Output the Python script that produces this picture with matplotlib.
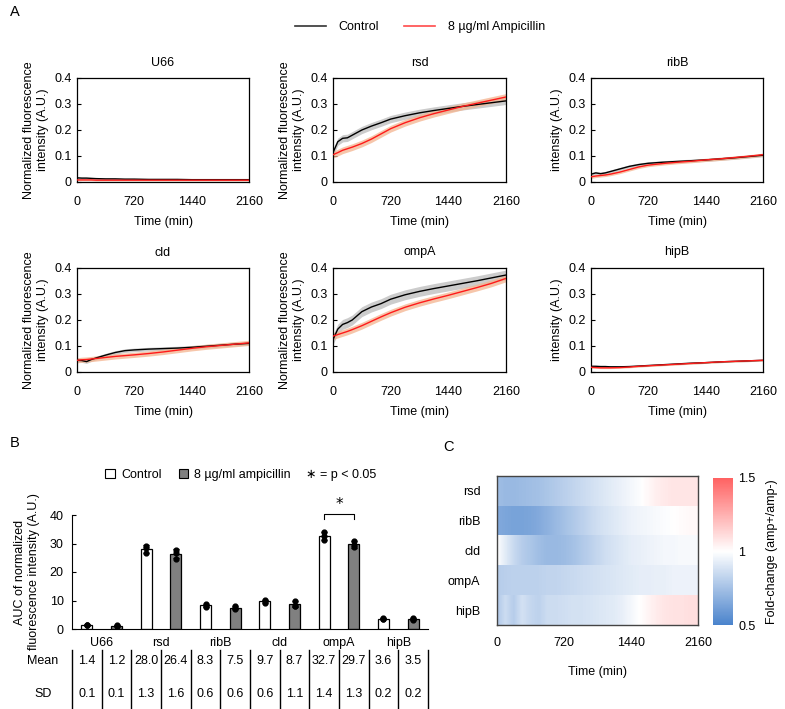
import matplotlib
matplotlib.use("Agg")
import matplotlib.pyplot as plt
import matplotlib.transforms as mtransforms
from matplotlib.colors import LinearSegmentedColormap
from matplotlib.lines import Line2D
from matplotlib.patches import Patch
import numpy as np

plt.rcParams["font.family"] = ["Liberation Sans", "DejaVu Sans"]
FS = 9

W, H = 785, 709

# ---- panel A: time courses ----
time = [0, 60, 120, 180, 240, 360, 480, 600, 720, 900, 1080, 1260, 1440, 1620, 1800, 1980, 2160]

U66_ctrl = [0.016, 0.015, 0.015, 0.014, 0.013, 0.012, 0.012, 0.011, 0.011, 0.010, 0.010, 0.010, 0.009, 0.009, 0.009, 0.009, 0.009]
U66_amp = [0.008, 0.008, 0.008, 0.008, 0.007, 0.007, 0.007, 0.007, 0.007, 0.007, 0.007, 0.007, 0.007, 0.007, 0.007, 0.007, 0.007]
rsd_ctrl = [0.113, 0.155, 0.168, 0.170, 0.180, 0.200, 0.215, 0.228, 0.242, 0.255, 0.266, 0.275, 0.283, 0.291, 0.298, 0.305, 0.312]
rsd_amp = [0.105, 0.113, 0.122, 0.128, 0.134, 0.148, 0.165, 0.185, 0.205, 0.228, 0.247, 0.263, 0.277, 0.291, 0.303, 0.315, 0.327]
ribB_ctrl = [0.030, 0.035, 0.032, 0.035, 0.040, 0.050, 0.060, 0.067, 0.072, 0.076, 0.079, 0.082, 0.085, 0.089, 0.093, 0.098, 0.103]
ribB_amp = [0.020, 0.023, 0.025, 0.027, 0.030, 0.038, 0.048, 0.058, 0.065, 0.071, 0.076, 0.080, 0.085, 0.089, 0.094, 0.099, 0.105]
cld_ctrl = [0.045, 0.044, 0.040, 0.048, 0.054, 0.065, 0.075, 0.082, 0.085, 0.088, 0.090, 0.092, 0.095, 0.099, 0.103, 0.107, 0.110]
cld_amp = [0.045, 0.047, 0.048, 0.050, 0.052, 0.056, 0.060, 0.063, 0.066, 0.071, 0.077, 0.084, 0.091, 0.097, 0.102, 0.107, 0.112]
ompA_ctrl = [0.125, 0.165, 0.183, 0.190, 0.200, 0.232, 0.250, 0.263, 0.280, 0.297, 0.310, 0.321, 0.331, 0.341, 0.351, 0.362, 0.373]
ompA_amp = [0.138, 0.144, 0.150, 0.156, 0.163, 0.178, 0.195, 0.212, 0.228, 0.249, 0.266, 0.281, 0.295, 0.310, 0.325, 0.341, 0.360]
hipB_ctrl = [0.022, 0.022, 0.021, 0.021, 0.020, 0.020, 0.021, 0.023, 0.025, 0.028, 0.031, 0.034, 0.036, 0.039, 0.041, 0.043, 0.045]
hipB_amp = [0.018, 0.017, 0.016, 0.016, 0.016, 0.017, 0.019, 0.022, 0.024, 0.027, 0.030, 0.033, 0.036, 0.039, 0.041, 0.043, 0.045]

# band half-widths (SD) per gene: control, ampicillin
U66_sd = [0.003, 0.003]
rsd_sd = [0.014, 0.013]
ribB_sd = [0.006, 0.006]
cld_sd = [0.007, 0.010]
ompA_sd = [0.019, 0.013]
hipB_sd = [0.003, 0.003]

# ---- panel B: AUC ----
genes_b = ["U66", "rsd", "ribB", "cld", "ompA", "hipB"]
auc_mean = [1.4, 1.2, 28.0, 26.4, 8.3, 7.5, 9.7, 8.7, 32.7, 29.7, 3.6, 3.5]
auc_sd = [0.1, 0.1, 1.3, 1.6, 0.6, 0.6, 0.6, 1.1, 1.4, 1.3, 0.2, 0.2]
auc_reps = [
    [1.3, 1.4, 1.5], [1.1, 1.2, 1.3],
    [29.2, 28.3, 26.5], [27.8, 26.8, 24.6],
    [8.9, 8.2, 7.8], [8.1, 7.4, 7.0],
    [10.3, 9.7, 9.1], [10.0, 8.1, 8.0],
    [34.2, 32.5, 31.4], [31.0, 29.5, 28.6],
    [3.8, 3.6, 3.4], [3.7, 3.5, 3.3],
]

# ---- panel C: fold-change heatmap ----
heat_genes = ["rsd", "ribB", "cld", "ompA", "hipB"]
heat_time = list(range(0, 2161, 90))
fc_rsd = [0.74, 0.72, 0.72, 0.73, 0.74, 0.75, 0.77, 0.79, 0.81, 0.83, 0.85, 0.87, 0.89, 0.91, 0.93, 0.95, 0.97, 0.99, 1.02, 1.05, 1.07, 1.08, 1.08, 1.08, 1.08]
fc_ribB = [0.66, 0.64, 0.63, 0.63, 0.64, 0.66, 0.69, 0.72, 0.75, 0.78, 0.81, 0.84, 0.87, 0.89, 0.91, 0.93, 0.95, 0.96, 0.97, 0.98, 0.99, 1.00, 1.01, 1.02, 1.02]
fc_cld = [1.00, 0.92, 0.85, 0.80, 0.77, 0.74, 0.72, 0.72, 0.73, 0.75, 0.78, 0.81, 0.84, 0.87, 0.89, 0.91, 0.93, 0.94, 0.95, 0.96, 0.97, 0.97, 0.98, 0.98, 0.98]
fc_ompA = [0.80, 0.81, 0.82, 0.82, 0.82, 0.82, 0.83, 0.83, 0.84, 0.85, 0.86, 0.87, 0.88, 0.89, 0.90, 0.91, 0.92, 0.93, 0.93, 0.94, 0.94, 0.95, 0.95, 0.95, 0.95]
fc_hipB = [0.78, 0.86, 0.80, 0.88, 0.84, 0.82, 0.86, 0.86, 0.87, 0.88, 0.88, 0.89, 0.90, 0.91, 0.92, 0.94, 0.97, 1.00, 1.03, 1.06, 1.08, 1.09, 1.09, 1.10, 1.10]


def px(l, t, r, b):
    return [l / W, 1 - b / H, (r - l) / W, (b - t) / H]


fig = plt.figure(figsize=(W / 100, H / 100), dpi=100)

panels = [
    ("U66", U66_ctrl, U66_amp, U66_sd, (77, 78, 249, 182), True),
    ("rsd", rsd_ctrl, rsd_amp, rsd_sd, (333, 78, 506, 182), True),
    ("ribB", ribB_ctrl, ribB_amp, ribB_sd, (591, 78, 763, 182), False),
    ("cld", cld_ctrl, cld_amp, cld_sd, (77, 268, 249, 372), True),
    ("ompA", ompA_ctrl, ompA_amp, ompA_sd, (333, 268, 506, 372), True),
    ("hipB", hipB_ctrl, hipB_amp, hipB_sd, (591, 268, 763, 372), False),
]

for name, ctrl, amp, sd, box, full_label in panels:
    ax = fig.add_axes(px(*box))
    c = np.array(ctrl)
    a = np.array(amp)
    ax.fill_between(time, c - sd[0], c + sd[0], color="#cccccc", lw=0, zorder=1)
    ax.fill_between(time, a - sd[1], a + sd[1], color="#f4b48f", alpha=0.75, lw=0, zorder=2)
    ax.plot(time, ctrl, color="black", lw=1.0, zorder=3)
    ax.plot(time, amp, color="#ff1a1a", lw=1.0, zorder=4)
    ax.set_xlim(0, 2160)
    ax.set_ylim(0, 0.4)
    ax.set_xticks([0, 720, 1440, 2160])
    ax.set_yticks([0, 0.1, 0.2, 0.3, 0.4])
    ax.set_yticklabels(["0", "0.1", "0.2", "0.3", "0.4"])
    ax.tick_params(axis="x", length=0, pad=10, labelsize=FS)
    ax.tick_params(axis="y", direction="in", length=3, pad=4, labelsize=FS)
    ax.set_xlabel("Time (min)", fontsize=FS, labelpad=6)
    if full_label:
        ax.set_ylabel("Normalized fluorescence\nintensity (A.U.)", fontsize=FS, labelpad=4)
    else:
        ax.set_ylabel("intensity (A.U.)", fontsize=FS, labelpad=4)
    ax.set_title(name, fontsize=FS, pad=9)
    for s in ax.spines.values():
        s.set_linewidth(0.9)

fig.legend(
    [Line2D([], [], color="#333333", lw=1.2), Line2D([], [], color="#ff4a4a", lw=1.2)],
    ["Control", "8 \u00b5g/ml Ampicillin"],
    loc="center", bbox_to_anchor=(420 / W, 1 - 27 / H), ncol=2, frameon=False,
    handlelength=2.5, columnspacing=2.0, handletextpad=1.0, fontsize=FS,
)

# ---- panel B ----
axb = fig.add_axes(px(72, 515, 428, 629))
pos = np.arange(len(auc_mean))
colors = ["white" if i % 2 == 0 else "#808080" for i in pos]
axb.bar(pos, auc_mean, width=0.36, color=colors, edgecolor="black", linewidth=0.9, zorder=2)
axb.errorbar(pos, auc_mean, yerr=auc_sd, fmt="none", ecolor="black", elinewidth=0.9, capsize=2.5, capthick=0.9, zorder=3)
for i, reps in enumerate(auc_reps):
    axb.scatter([i] * len(reps), reps, s=12, color="black", zorder=4)
axb.set_xlim(-0.5, 11.5)
axb.set_ylim(0, 40)
axb.set_yticks([0, 10, 20, 30, 40])
axb.tick_params(axis="y", direction="in", length=3, pad=6, labelsize=FS)
axb.set_xticks(np.arange(0.5, 12, 2))
axb.set_xticklabels(genes_b)
axb.tick_params(axis="x", length=0, pad=6, labelsize=FS)
axb.spines["top"].set_visible(False)
axb.spines["right"].set_visible(False)
axb.set_ylabel("AUC of normalized\nfluorescence intensity (A.U.)", fontsize=FS, labelpad=7)

# significance bracket for ompA
axb.plot([8, 8, 9, 9], [38.5, 40.3, 40.3, 38.5], color="black", lw=0.8, clip_on=False)
axb.text(8.5, 41.0, "*", ha="center", va="bottom", fontsize=11, family="DejaVu Sans", clip_on=False)

# table below
blend = mtransforms.blended_transform_factory(axb.transData, fig.transFigure)
for xs in np.arange(-0.5, 12, 1):
    fig.add_artist(Line2D([xs, xs], [1 - 650 / H, 0.0], color="black", lw=1.0, transform=blend))
for i in pos:
    fig.text(i, 1 - 661 / H, f"{auc_mean[i]:.1f}", transform=blend, ha="center", va="center", fontsize=FS)
    fig.text(i, 1 - 694 / H, f"{auc_sd[i]:.1f}", transform=blend, ha="center", va="center", fontsize=FS)
fig.text(43 / W, 1 - 661 / H, "Mean", ha="center", va="center", fontsize=FS)
fig.text(43 / W, 1 - 694 / H, "SD", ha="center", va="center", fontsize=FS)

fig.legend(
    [Patch(facecolor="white", edgecolor="black", lw=0.8), Patch(facecolor="#808080", edgecolor="black", lw=0.8)],
    ["Control", "8 \u00b5g/ml ampicillin"],
    loc="center left", bbox_to_anchor=(94 / W, 1 - 475 / H), ncol=2, frameon=False,
    handlelength=0.75, handleheight=0.75, handletextpad=0.5, columnspacing=1.4, fontsize=FS,
)
fig.text(306 / W, 1 - 475 / H, "\u2217 = p < 0.05", ha="left", va="center", fontsize=FS,
         family=["Liberation Sans", "DejaVu Sans"])

# ---- panel C ----
cmap = LinearSegmentedColormap.from_list("fc", ["#4a83cc", "#ffffff", "#ff6262"])
axc = fig.add_axes(px(497, 476, 698, 625))
rows = [fc_rsd, fc_ribB, fc_cld, fc_ompA, fc_hipB]
step = heat_time[1] - heat_time[0]
for r, vals in enumerate(rows):
    im = axc.imshow([vals], cmap=cmap, vmin=0.5, vmax=1.5, aspect="auto", interpolation="bilinear",
                    extent=(heat_time[0] - step / 2, heat_time[-1] + step / 2, r + 0.5, r - 0.5))
axc.set_xlim(0, 2160)
axc.set_ylim(4.5, -0.5)
axc.set_yticks(range(len(heat_genes)))
axc.set_yticklabels(heat_genes)
axc.set_xticks([0, 720, 1440, 2160])
axc.tick_params(length=0, labelsize=FS)
axc.tick_params(axis="x", pad=9)
axc.tick_params(axis="y", pad=12)
axc.set_xlabel("Time (min)", fontsize=FS, labelpad=12)
for s in axc.spines.values():
    s.set_color("#444444")
    s.set_linewidth(1.0)

cax = fig.add_axes(px(713, 478, 733, 625))
cb = fig.colorbar(im, cax=cax, ticks=[0.5, 1, 1.5])
cb.ax.set_yticklabels(["0.5", "1", "1.5"])
cb.ax.tick_params(length=0, pad=4, labelsize=FS)
cb.outline.set_visible(False)
cb.set_label("Fold-change (amp+/amp-)", fontsize=FS, labelpad=7)

fig.text(10 / W, 1 - 12 / H, "A", ha="left", va="center", fontsize=10.5)
fig.text(10 / W, 1 - 443 / H, "B", ha="left", va="center", fontsize=10.5)
fig.text(443 / W, 1 - 447 / H, "C", ha="left", va="center", fontsize=10.5)

fig.savefig("out.png", dpi=100)
